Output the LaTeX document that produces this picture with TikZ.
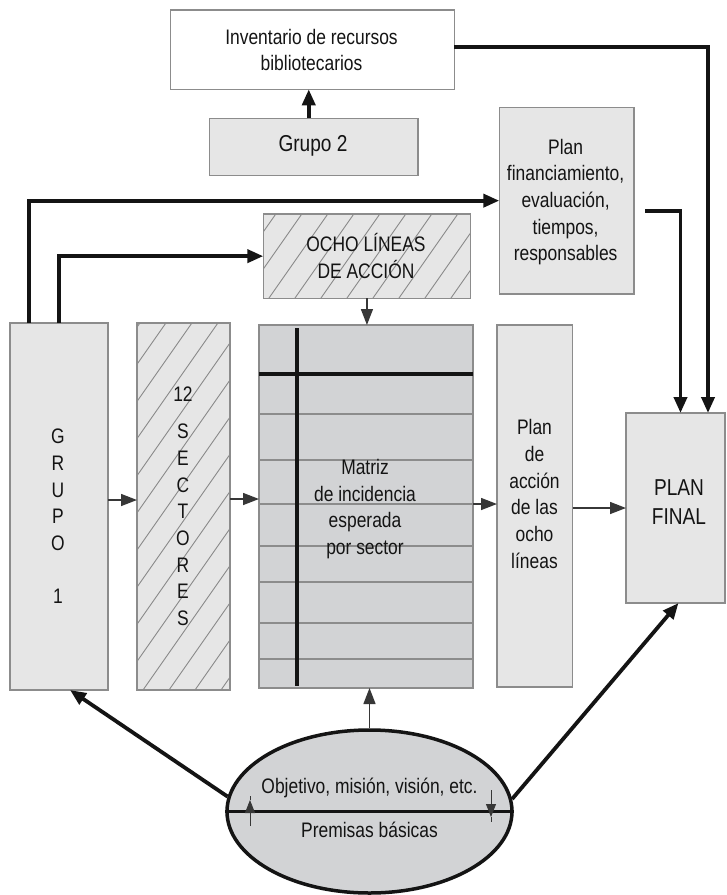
\documentclass[tikz,border=0pt]{standalone}
\usepackage{fontspec}
\setmainfont{Liberation Sans}[FakeStretch=0.83]
\usetikzlibrary{arrows.meta,fit,shapes.geometric,calc}
\definecolor{boxfill}{HTML}{E6E6E6}
\definecolor{matfill}{HTML}{D2D3D5}
\definecolor{bordc}{HTML}{8C8C8C}
\definecolor{ink}{HTML}{141414}
\definecolor{hatchc}{HTML}{8A8A8A}
\begin{document}
\begin{tikzpicture}[x=1pt,y=-1pt,
  box/.style={draw=bordc, line width=1.5pt, fill=boxfill, inner sep=0pt, outer sep=0pt},
  txt/.style={font=\fontsize{21}{26.7}\selectfont, text=ink, align=center, inner sep=0pt},
  bigtxt/.style={font=\fontsize{23}{29}\selectfont, text=ink, align=center, inner sep=0pt},
  bigline/.style={draw=ink, line width=3.8pt},
  bigarrow/.style={draw=ink, line width=3.8pt, -{Triangle[length=16pt,width=13pt]}},
  thinarrow/.style={draw=ink!85, line width=1.4pt, -{Triangle[length=16pt,width=12pt]}},
  tinyarrow/.style={draw=ink!85, line width=0.8pt, -{Triangle[length=13pt,width=10pt]}},
  hatchline/.style={draw=hatchc, line width=0.9pt},
  matline/.style={draw=bordc, line width=1.5pt},
  matthick/.style={draw=ink, line width=4pt}]
\useasboundingbox (0,0) rectangle (727,895);
\fill[white] (0,0) rectangle (727,895);

% boxes
\node[box, fill=white, fit={(170.6,10)(454.3,89.3)}] (inv) {};
\node[box, fit={(209.5,118.3)(418,175.7)}] (g2) {};
\node[box, fit={(499.3,107.3)(634.2,294)}] (pf) {};
\node[box, fit={(263.3,214)(470.6,298.3)}] (ocho) {};
\node[box, fit={(10,323)(108,690)}] (g1) {};
\node[box, fit={(137,323)(230,690)}] (sec) {};
\node[box, fill=matfill, fit={(259,325)(473,688)}] (mat) {};
\node[box, fit={(497,325)(572.5,687)}] (pa) {};
\node[box, fit={(626,413)(725,603)}] (pfinal) {};
\node[ellipse, draw=ink, line width=3.5pt, fill=matfill, minimum width=285pt, minimum height=163pt, inner sep=0pt] (ell) at (369.5,811.5) {};

% hatching
\begin{scope}
  \clip (137.8,323.8) rectangle (229.2,689.2);
  \foreach \i in {-280,-254,...,110} \draw[hatchline] (137+\i,690) -- ++(315,-450);
\end{scope}
\begin{scope}
  \clip (264.1,214.8) rectangle (469.8,297.5);
  \foreach \i in {-150,-124,...,215} \draw[hatchline] (263+\i,298) -- ++(140,-200);
\end{scope}

% matrix grid
\foreach \yy in {414,460,504,546,582,623,659} \draw[matline] (259,\yy) -- (473,\yy);
\draw[matthick] (259,374) -- (473,374);
\draw[matthick] (297,328) -- (297,686);

% ellipse divider
\draw[bigline] (ell.west) -- (ell.east);

% coordinates for connectors
\coordinate (pfR) at ([xshift=32.5pt]pfinal.north);
\coordinate (pfL) at ([xshift=5pt]pfinal.north);
\coordinate (a1) at (250,826);
\coordinate (a2) at (250,800);
\coordinate (a3) at (250,796);
\coordinate (b1) at (491,790);
\coordinate (b2) at (491,817);
\coordinate (b3) at (491,822);

% thick connectors
\draw[bigarrow] ([xshift=-5pt]g2.north) -- ([xshift=-5pt]g2.north |- inv.south);
\draw[bigarrow] ([yshift=3pt]inv.east) -| (pfR);
\draw[bigarrow] ([xshift=11pt,yshift=-10pt]pf.east) -| (pfL);
\draw[bigarrow] ([xshift=-30pt]g1.north) |- (pf.west);
\draw[bigarrow] (g1.north) |- (ocho.west);
\draw[bigarrow] (ell.174) -- ([xshift=11pt]g1.south);
\draw[bigarrow] (ell.5) -- ([xshift=3pt]pfinal.south);

% thin connectors
\draw[thinarrow] (ocho.south) -- (ocho.south |- mat.north);
\draw[thinarrow] ([yshift=6.5pt]g1.east) -- ([yshift=6.5pt]g1.east -| sec.west);
\draw[thinarrow] ([yshift=7.5pt]sec.east) -- ([yshift=7.5pt]sec.east -| mat.west);
\draw[thinarrow] ([yshift=2.5pt]mat.east) -- ([yshift=2.5pt]mat.east -| pa.west);
\draw[thinarrow] ([yshift=-2pt]pa.east) -- ([yshift=-2pt]pa.east -| pfinal.west);
\draw[thinarrow] (ell.north) -- (ell.north |- mat.south);
\draw[tinyarrow] (a1) -- (a2);
\draw[draw=ink!85, line width=0.8pt] (a2) -- (a3);
\draw[tinyarrow] (b1) -- (b2);
\draw[draw=ink!85, line width=0.8pt] (b2) -- (b3);

% texts
\node[txt] (tinv) at (311.5,50) {Inventario de recursos\\bibliotecarios};
\node[bigtxt] (tg2) at (313,146) {Grupo 2};
\node[txt] (tpf) at (565.6,202) {Plan\\financiamiento,\\evaluación,\\tiempos,\\responsables};
\node[txt] (tocho) at (366,256) {OCHO LÍNEAS\\DE ACCIÓN};
\node[txt] (tg1) at (58,516.5) {G\\R\\U\\P\\O\\[26.7pt]1};
\node[txt] (tsec) at (183,506.5) {12\\[10.3pt]S\\E\\C\\T\\O\\R\\E\\S};
\node[txt] (tmat) at (365,509) {Matriz\\de incidencia\\esperada\\por sector};
\node[txt] (tpa) at (534.5,494) {Plan\\de\\acción\\de las\\ocho\\líneas};
\node[bigtxt] (tpfinal) at (679,502.5) {PLAN\\FINAL};
\node[txt] (tobj) at (369.5,788) {Objetivo, misión, visión, etc.};
\node[txt] (tprem) at (369.5,830) {Premisas básicas};
\end{tikzpicture}
\end{document}
